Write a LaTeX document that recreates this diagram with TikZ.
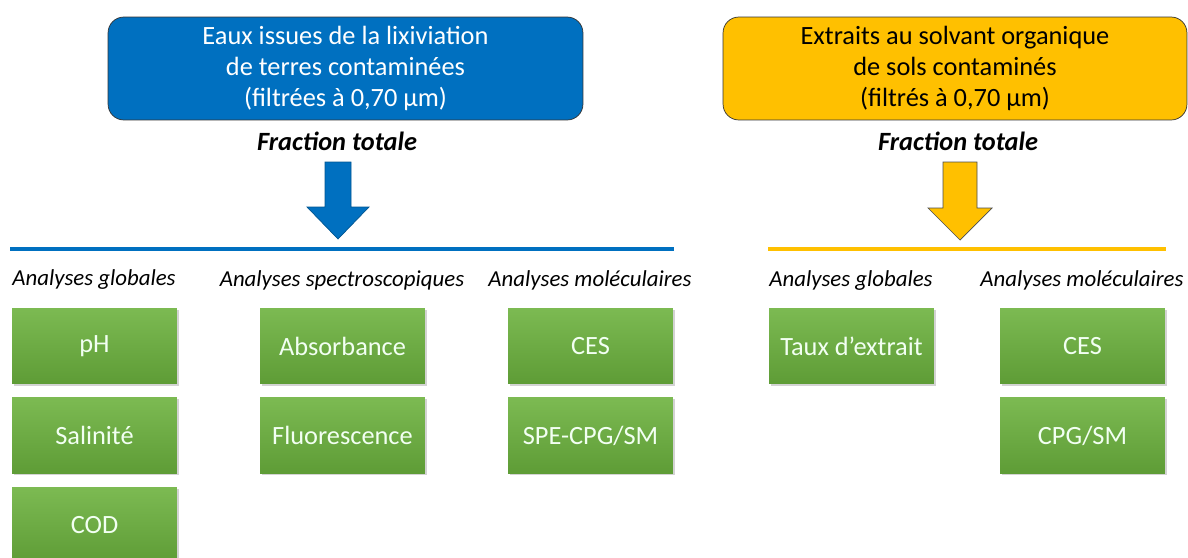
\documentclass[tikz,border=0pt]{standalone}
\usepackage{fontspec}
\setmainfont{Carlito}
\usetikzlibrary{positioning,shadows}

\definecolor{boxblue}{RGB}{0,112,192}
\definecolor{boxyellow}{RGB}{255,192,0}
\definecolor{greentop}{RGB}{124,186,82}
\definecolor{greenbot}{RGB}{94,156,54}

\begin{document}
\begin{tikzpicture}[
  x=0.02cm, y=-0.02cm,
  source/.style={draw=black!80, rounded corners=9pt, minimum height=2.06cm, align=center, font=\fontsize{15}{17.6}\selectfont},
  fraction/.style={font=\fontsize{15}{18}\selectfont\bfseries\itshape},
  heading/.style={font=\fontsize{13}{15}\selectfont\itshape},
  analysis/.style={rectangle, top color=greentop, bottom color=greenbot, text=white!95!green,
    minimum width=3.3cm, minimum height=1.52cm, font=\fontsize{15}{18}\selectfont,
    drop shadow={opacity=0.35, shadow xshift=1pt, shadow yshift=-1pt}},
  node distance=0.26cm
]
\clip (0,0) rectangle (1188,558);

% --- Sources ---
\node (eaux)  [source, fill=boxblue, text=white, minimum width=9.5cm] at (345.5,68.5)
  {Eaux issues de la lixiviation\\de terres contaminées\\(filtrées à 0,70 µm)};
\node (extr)  [source, fill=boxyellow, minimum width=9.28cm] at (955,68.5)
  {Extraits au solvant organique\\de sols contaminés\\(filtrés à 0,70 µm)};

\node (fracL) [fraction] at (337,141) {Fraction totale};
\node (fracR) [fraction] at (958,141) {Fraction totale};

% --- Block arrows and bars ---
\draw[fill=boxblue, draw=boxblue!75!black] (325,162) -- (351,162) -- (351,207) -- (369,207)
  -- (338,239) -- (307,207) -- (325,207) -- cycle;
\draw[fill=boxyellow, draw=black!70] (943,162) -- (977,162) -- (977,208) -- (992,208)
  -- (960,240) -- (928,208) -- (943,208) -- cycle;

\draw[boxblue, line width=2.3pt] (10,249) -- (674,249);
\draw[boxyellow, line width=2.3pt] (768,249) -- (1166,249);

% --- Headings ---
\node (globL) [heading] at (94,280)   {Analyses globales};
\node (spec)  [heading] at (342,280)  {Analyses spectroscopiques};
\node (molL)  [heading] at (590,280)  {Analyses moléculaires};
\node (globR) [heading] at (851,281)  {Analyses globales};
\node (molR)  [heading] at (1082,280) {Analyses moléculaires};

% --- Analyses ---
\node (ph)    [analysis] at (94.5,346)  {pH};
\node (sal)   [analysis, below=of ph]   {Salinité};
\node (cod)   [analysis, below=of sal]  {COD};

\node (abs)   [analysis] at (342.5,346) {Absorbance};
\node (fluo)  [analysis, below=of abs]  {Fluorescence};

\node (cesL)  [analysis] at (590.5,346) {CES};
\node (spe)   [analysis, below=of cesL] {SPE-CPG/SM};

\node (taux)  [analysis] at (851.5,346) {Taux d’extrait};

\node (cesR)  [analysis] at (1082.5,346) {CES};
\node (cpg)   [analysis, below=of cesR]  {CPG/SM};

\end{tikzpicture}
\end{document}
